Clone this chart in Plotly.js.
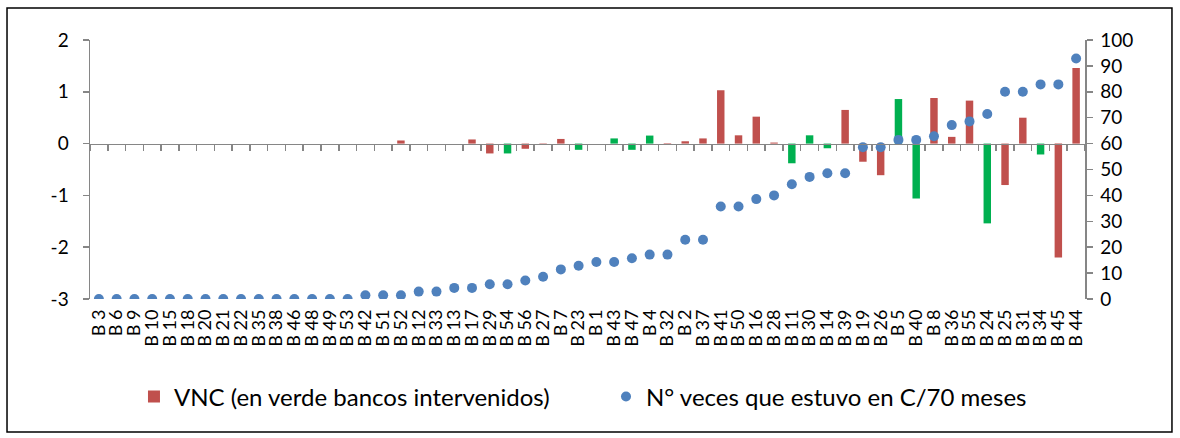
<!DOCTYPE html>
<html>
<head>
<meta charset="utf-8">
<script src="https://cdn.plot.ly/plotly-3.0.1.min.js"></script>
<style>
  html, body { margin: 0; padding: 0; background: #ffffff; }
  #chart { width: 1180px; height: 438px; }
</style>
</head>
<body>
<div id="chart"></div>
<script>
// Categories (banks), in chart order
const banks = ["B 3","B 6","B 9","B 10","B 15","B 18","B 20","B 21","B 22","B 35","B 38","B 46","B 48","B 49","B 53",
  "B 42","B 51","B 52","B 12","B 33","B 13","B 17","B 29","B 54","B 56","B 27","B 7","B 23","B 1","B 43",
  "B 47","B 4","B 32","B 2","B 37","B 41","B 50","B 16","B 28","B 11","B 30","B 14","B 39","B 19","B 26",
  "B 5","B 40","B 8","B 36","B 55","B 24","B 25","B 31","B 34","B 45","B 44"];

// VNC values (left axis)
const vnc = [0,0,0,0,0,0,0,0,0,0,0,0,0,0,0,
  0,0,0.06,0,0,0,0.08,-0.19,-0.19,-0.1,-0.02,0.09,-0.12,0,0.1,
  -0.12,0.155,0.01,0.045,0.1,1.03,0.16,0.52,0.02,-0.38,0.16,-0.09,0.65,-0.35,-0.61,
  0.86,-1.06,0.88,0.13,0.83,-1.54,-0.80,0.50,-0.21,-2.2,1.46];

// N° veces que estuvo en C / 70 meses (right axis, %)
const veces = [0,0,0,0,0,0,0,0,0,0,0,0,0,0,0,
  1.43,1.43,1.43,2.86,2.86,4.29,4.29,5.71,5.71,7.14,8.57,11.43,12.86,14.29,14.29,
  15.71,17.14,17.14,22.86,22.86,35.71,35.71,38.57,40.0,44.29,47.14,48.57,48.57,58.57,58.57,
  61.43,61.43,62.86,67.14,68.57,71.43,80.0,80.0,82.86,82.86,92.86];

// Intervened banks (shown in green)
const intervenidos = ["B 54","B 23","B 43","B 47","B 4","B 11","B 30","B 14","B 5","B 40","B 24","B 34"];

const leftTicks = [-3,-2,-1,0,1,2];
const rightTicks = [0,10,20,30,40,50,60,70,80,90,100];

const RED = "#C0504D", GREEN = "#00B050", BLUE = "#4F81BD", AXIS = "#868686";
const FONT = "Lato, 'Open Sans', sans-serif";

const barColors = banks.map(b => intervenidos.includes(b) ? GREEN : RED);

const traces = [
  {
    type: "bar", x: banks, y: vnc, xaxis: "x", yaxis: "y",
    name: "VNC (en verde bancos intervenidos)", legend: "legend",
    marker: { color: barColors },
    hoverinfo: "x+y"
  },
  {
    type: "scatter", mode: "markers", x: banks, y: veces, xaxis: "x", yaxis: "y2",
    name: "N° veces que estuvo en C/70 meses", legend: "legend2",
    marker: { color: BLUE, size: 10 },
    hoverinfo: "x+y"
  },
  {
    type: "scatter", mode: "markers", x: banks, y: banks.map(() => null), xaxis: "x2", yaxis: "y",
    showlegend: false, hoverinfo: "skip"
  }
];

const catRange = [-0.5, banks.length - 0.5];
const legFont = { family: FONT, size: 24, color: "#000000" };

const layout = {
  width: 1180, height: 438,
  margin: { l: 90, r: 95, t: 40, b: 139, autoexpand: false },
  paper_bgcolor: "#ffffff", plot_bgcolor: "rgba(0,0,0,0)",
  font: { family: FONT, color: "#000000", size: 17 },
  bargap: 0.58,
  showlegend: true,
  legend: {
    orientation: "h", x: 0.0442, xanchor: "left", y: -0.378, yanchor: "middle",
    font: legFont, itemwidth: 30, bgcolor: "rgba(0,0,0,0)"
  },
  legend2: {
    orientation: "h", x: 0.5186, xanchor: "left", y: -0.378, yanchor: "middle",
    font: legFont, itemwidth: 30, bgcolor: "rgba(0,0,0,0)"
  },
  xaxis: {
    type: "category", categoryorder: "array", categoryarray: banks, range: catRange,
    tickmode: "array", tickvals: banks, ticktext: banks,
    tickangle: -90, showline: false, ticks: "", showgrid: false, zeroline: false,
    tickfont: { family: FONT, size: 18 }, ticklabelstandoff: 6, anchor: "y", fixedrange: true
  },
  xaxis2: {
    type: "category", categoryorder: "array", categoryarray: banks, range: catRange,
    overlaying: "x", anchor: "free", position: 0.6, side: "bottom",
    showline: true, linecolor: AXIS, linewidth: 1.5,
    ticks: "outside", ticklen: 6, tickwidth: 1.5, tickcolor: AXIS, tickson: "boundaries",
    showticklabels: false, showgrid: false, zeroline: false, fixedrange: true
  },
  yaxis: {
    range: [-3, 2], tickvals: leftTicks, ticktext: leftTicks.map(String),
    showline: true, linecolor: AXIS, linewidth: 1.5,
    ticks: "outside", ticklen: 6, tickwidth: 1.5, tickcolor: AXIS,
    showgrid: false, zeroline: false, tickfont: { family: FONT, size: 19 },
    ticklabelstandoff: 10, fixedrange: true
  },
  yaxis2: {
    range: [0, 100], overlaying: "y", side: "right", tickvals: rightTicks, ticktext: rightTicks.map(String),
    showline: true, linecolor: AXIS, linewidth: 1.5,
    ticks: "outside", ticklen: 6, tickwidth: 1.5, tickcolor: AXIS,
    showgrid: false, zeroline: false, tickfont: { family: FONT, size: 19 },
    ticklabelstandoff: 4, fixedrange: true
  },
  shapes: [{
    type: "rect", xref: "paper", yref: "paper",
    x0: -0.0834, x1: 1.0874, y0: -0.5135, y1: 1.1236,
    line: { color: "#000000", width: 1.5 }, fillcolor: "rgba(0,0,0,0)", layer: "below"
  }]
};

Plotly.newPlot("chart", traces, layout, { displayModeBar: false, staticPlot: true });
</script>
</body>
</html>
